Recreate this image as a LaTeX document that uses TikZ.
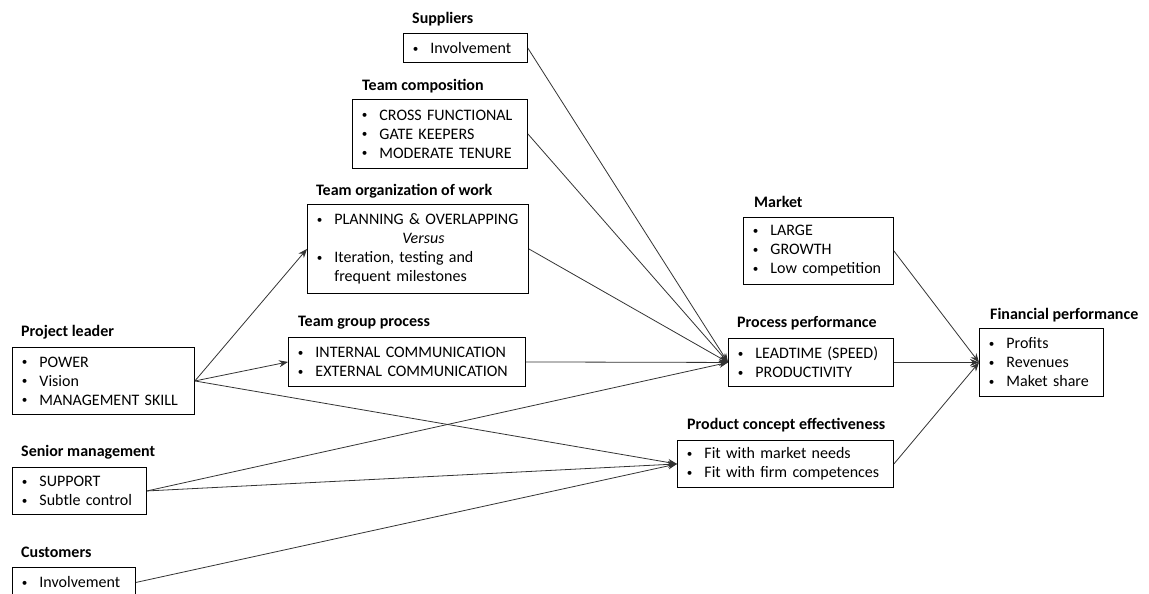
\documentclass[tikz,border=0pt]{standalone}
\usepackage{fontspec}
\setmainfont{Carlito}
\usetikzlibrary{arrows.meta}
\newcommand{\itm}[1]{\makebox[17pt][l]{\hspace{-0.5pt}\raisebox{1.5pt}{\scalebox{0.7}{\textbullet}}}#1}
\tikzset{
  box/.style={draw, line width=0.9pt, anchor=north west, align=left,
    inner xsep=10pt, inner ysep=0pt},
  head/.style={anchor=west, inner sep=0pt, font=\fontsize{16pt}{19pt}\selectfont\bfseries},
  link/.style={draw=black!80, line width=0.8pt, -{Stealth[length=9pt,width=7pt]}},
  plain/.style={draw=black!80, line width=0.8pt}
}
\begin{document}
\begin{tikzpicture}[x=1pt,y=-1pt,font=\fontsize{16pt}{19pt}\selectfont]
    \useasboundingbox (0,0) rectangle (1149,594);
    % left column
    \node[box, text width=162pt, minimum height=67pt] (lead) at (12,347)
      {\itm{POWER}\\\itm{Vision}\\\itm{MANAGEMENT SKILL}};
    \node[head] (leadh) at (21,332) {Project leader};
    \node[box, text width=114pt, minimum height=47pt] (senior) at (12,467)
      {\itm{SUPPORT}\\\itm{Subtle control}};
    \node[head] (seniorh) at (21,452) {Senior management};
    \node[box, text width=103pt, minimum height=30pt] (cust) at (12,567)
      {\itm{Involvement}};
    \node[head] (custh) at (21,552) {Customers};
    % team boxes
    \node[box, text width=104pt, minimum height=29.5pt] (supp) at (403,33)
      {\itm{Involvement}};
    \node[head] (supph) at (412,19) {Suppliers};
    \node[box, text width=155pt, minimum height=69pt] (comp) at (352,99)
      {\itm{CROSS FUNCTIONAL}\\\itm{GATE KEEPERS}\\\itm{MODERATE TENURE}};
    \node[head] (comph) at (362,86) {Team composition};
    \node[box, text width=201pt, minimum height=89pt] (org) at (307,204)
      {\itm{PLANNING \& OVERLAPPING}\\\hspace*{85pt}\textit{Versus}\\
       \itm{Iteration, testing and}\\\hspace*{17pt}frequent milestones};
    \node[head] (orgh) at (316,191) {Team organization of work};
    \node[box, text width=217pt, minimum height=49pt] (grp) at (288,337)
      {\itm{INTERNAL COMMUNICATION}\\\itm{EXTERNAL COMMUNICATION}};
    \node[head] (grph) at (298,323) {Team group process};
    % performance boxes
    \node[box, text width=145pt, minimum height=48pt] (proc) at (728,338)
      {\itm{LEADTIME (SPEED)}\\\itm{PRODUCTIVITY}};
    \node[head] (proch) at (737,323) {Process performance};
    \node[box, text width=196pt, minimum height=47pt] (prod) at (677,440)
      {\itm{Fit with market needs}\\\itm{Fit with firm competences}};
    \node[head] (prodh) at (687,425) {Product concept effectiveness};
    \node[box, text width=130pt, minimum height=67pt] (mkt) at (743,217)
      {\itm{LARGE}\\\itm{GROWTH}\\\itm{Low competition}};
    \node[head] (mkth) at (754,202) {Market};
    \node[box, text width=104pt, minimum height=68pt] (fin) at (979,328)
      {\itm{Profits}\\\itm{Revenues}\\\itm{Maket share}};
    \node[head] (finh) at (990,315) {Financial performance};
    % connectors
    \draw[link] (lead.east) -- (org.west);
    \draw[link] (lead.east) -- (grp.west);
    \draw[link] (lead.east) -- (prod.west);
    \draw[link] (senior.east) -- (proc.west);
    \draw[link] (senior.east) -- (prod.west);
    \draw[link] (cust.east) -- (prod.west);
    \draw[link] (supp.east) -- (proc.west);
    \draw[link] (comp.east) -- (proc.west);
    \draw[link] (org.east) -- (proc.west);
    \draw[link] (grp.east) -- (proc.west);
    \draw[link] (mkt.east) -- (fin.west);
    \draw[link] (proc.east) -- (fin.west);
    \draw[link] (prod.east) -- (fin.west);
\end{tikzpicture}
\end{document}
